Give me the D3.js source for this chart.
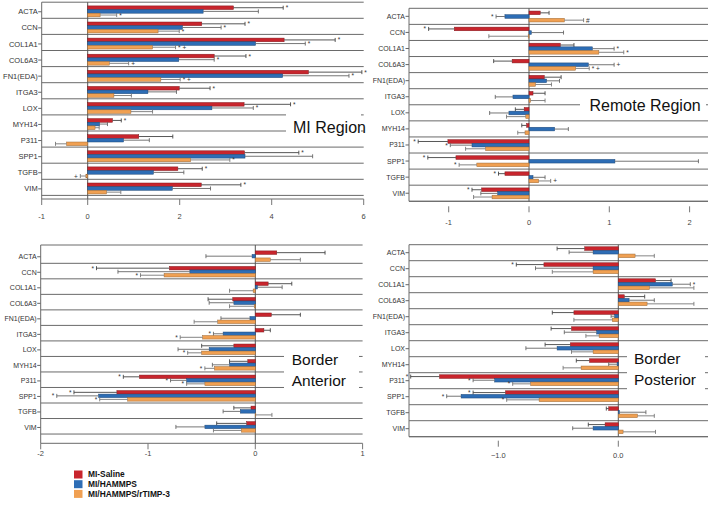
<!DOCTYPE html>
<html><head><meta charset="utf-8">
<script src="https://cdn.jsdelivr.net/npm/d3@7"></script>
<style>body{margin:0;background:#fff}svg{display:block}text{font-family:"Liberation Sans",Arial,sans-serif}</style>
</head><body><svg id="c" width="711" height="505"></svg>
<script>
const genes = ["ACTA","CCN","COL1A1","COL6A3","FN1(EDA)","ITGA3","LOX","MYH14","P311","SPP1","TGFB","VIM"];
const seriesNames = ["MI-Saline","MI/HAMMPS","MI/HAMMPS/rTIMP-3"];
const seriesColors = ["#c8252d","#2d6db5","#f0a052"];

// MI Region
const miSaline   = [3.17,2.48,4.27,2.75,4.80,1.99,3.40,0.54,1.11,3.41,1.96,2.47];
const miSalineSE = [1.08,0.94,1.11,0.69,1.16,0.67,1.01,0.19,0.74,1.18,0.53,0.86];
const miHammps   = [2.51,2.06,3.65,1.98,4.24,1.31,2.70,0.26,0.78,3.42,1.43,1.84];
const miHammpsSE = [1.20,0.84,1.08,0.77,1.44,0.62,0.90,0.17,0.56,1.47,0.66,0.83];
const miTimp     = [0.27,1.53,1.41,0.47,1.59,0.57,0.94,0.16,-0.46,2.24,-0.04,0.41];
const miTimpSE   = [0.36,0.46,0.50,0.42,0.42,0.38,0.47,0.09,0.24,0.85,0.12,0.31];
const miSalineSig = ["*","*","*","*","*","*","*","*","","*","*","*"];
const miHammpsSig = ["","*","*","*","*","","*","","","","",""];
const miTimpSig   = ["*","*","* +","+","* +","","","","","*","+",""];
const miTicks = [-1,0,2,4,6];

// Remote Region
const reSaline   = [0.14,-0.93,0.39,-0.21,0.19,0.05,-0.06,-0.03,-1.01,-0.91,-0.30,-0.59];
const reSalineSE = [0.11,0.32,0.17,0.23,0.21,0.15,0.11,0.06,0.37,0.35,0.08,0.12];
const reHammps   = [-0.30,0.03,0.79,0.74,0.22,-0.20,-0.25,0.32,-0.71,1.07,0.05,-0.39];
const reHammpsSE = [0.11,0.40,0.27,0.32,0.16,0.22,0.24,0.17,0.27,1.04,0.15,0.21];
const reTimp     = [0.44,-0.01,0.87,0.58,0.08,0.02,-0.04,-0.05,-0.54,-0.65,0.12,-0.46];
const reTimpSE   = [0.24,0.49,0.31,0.17,0.20,0.18,0.24,0.09,0.25,0.22,0.15,0.23];
const reSalineSig = ["","*","","","","","","","*","*","*","*"];
const reHammpsSig = ["*","","*","+","","","","","*","","",""];
const reTimpSig   = ["#","","*","* +","","","","","","*","+",""];
const reTicks = [-1,0,1,2];

// Border Anterior
const baSaline   = [0.20,-0.80,0.12,-0.21,0.15,0.08,-0.20,-0.07,-1.08,-1.29,-0.04,-0.08];
const baSalineSE = [0.45,0.68,0.22,0.23,0.27,0.06,0.30,0.17,0.15,0.40,0.16,0.28];
const baHammps   = [-0.03,-0.61,0.02,-0.20,-0.05,-0.30,-0.43,-0.24,-0.64,-1.46,-0.14,-0.47];
const baHammpsSE = [0.43,0.67,0.23,0.23,0.27,0.09,0.29,0.16,0.15,0.39,0.16,0.27];
const baTimp     = [0.14,-0.85,-0.02,-0.01,-0.35,-0.49,-0.50,-0.38,-0.47,-1.19,0.005,-0.13];
const baTimpSE   = [0.28,0.22,0.22,0.23,0.22,0.21,0.13,0.09,0.17,0.26,0.15,0.26];
const baSalineSig = ["","*","","","","","","","*","*","",""];
const baHammpsSig = ["","","","","","*","","","*","*","",""];
const baTimpSig   = ["","*","","","","*","*","*","*","*","",""];
const baTicks = [-2,-1,0,1];

// Border Posterior
const bpSaline   = [-0.28,-0.62,0.31,0.05,-0.37,-0.39,-0.40,-0.24,-1.49,-0.94,-0.08,-0.11];
const bpSalineSE = [0.23,0.23,0.13,0.17,0.18,0.17,0.21,0.11,0.24,0.27,0.02,0.14];
const bpHammps   = [-0.21,-0.21,0.45,0.09,-0.03,-0.18,-0.51,-0.01,-1.03,-1.31,0.01,-0.21];
const bpHammpsSE = [0.20,0.48,0.15,0.21,0.03,0.27,0.26,0.07,0.18,0.12,0.22,0.17];
const bpTimp     = [0.14,-0.21,0.26,0.24,-0.05,-0.16,-0.21,-0.31,-0.73,-0.66,0.16,0.04];
const bpTimpSE   = [0.16,0.34,0.37,0.39,0.32,0.11,0.18,0.15,0.15,0.27,0.14,0.27];
const bpSalineSig = ["","*","","","","","","","*","*","",""];
const bpHammpsSig = ["","","*","","","","","","*","*","",""];
const bpTimpSig   = ["","","","","","","","","*","*","",""];
const bpTicks = [-1,0];

const svg = d3.select("#c");

function drawPanel(cfg, vals, ses, sigs, ticks, fmt, title) {
  const g = svg.append("g");
  const x = d3.scaleLinear().domain(cfg.dom).range([cfg.x0, cfg.x1]);
  const y = d3.scaleBand().domain(genes).range([cfg.bandTop, cfg.bandTop + genes.length * cfg.bandH]).padding(0);
  const h = y.bandwidth();
  const ys = d3.scaleBand().domain([0,1,2]).range([cfg.padTop * h, (cfg.padTop + 0.68) * h]).padding(0);
  const sepR = cfg.sepRight;

  g.selectAll("line.sep").data(d3.range(1, genes.length + 1)).join("line")
    .attr("x1", cfg.x0).attr("x2", sepR)
    .attr("y1", k => cfg.bandTop + k * h).attr("y2", k => cfg.bandTop + k * h)
    .attr("stroke", "#6a6a6a").attr("stroke-width", 1);
  g.append("line").attr("x1", cfg.x0).attr("x2", sepR).attr("y1", cfg.frameTop).attr("y2", cfg.frameTop)
    .attr("stroke", "#6a6a6a");
  g.append("rect").attr("x", cfg.box[0]).attr("y", cfg.box[1]).attr("width", cfg.box[2]).attr("height", cfg.box[3]).attr("fill", "#fff");

  g.append("line").attr("x1", cfg.x0).attr("x2", sepR).attr("y1", cfg.axisY).attr("y2", cfg.axisY).attr("stroke", "#6a6a6a");
  g.selectAll("line.xt").data(ticks).join("line")
    .attr("x1", d => x(d)).attr("x2", d => x(d)).attr("y1", cfg.axisY + cfg.tickGap).attr("y2", cfg.axisY + cfg.tickGap + 6)
    .attr("stroke", "#777");
  g.selectAll("text.xt").data(ticks).join("text")
    .attr("x", d => x(d)).attr("y", cfg.tickLabelY).attr("dy", "0.35em")
    .attr("text-anchor", "middle").attr("font-size", 7.5).attr("fill", "#444").text(fmt);

  g.append("line").attr("x1", cfg.x0).attr("x2", cfg.x0).attr("y1", cfg.frameTop).attr("y2", cfg.axisY).attr("stroke", "#6a6a6a");
  g.append("line").attr("x1", x(0)).attr("x2", x(0)).attr("y1", cfg.frameTop).attr("y2", cfg.axisY).attr("stroke", "#555");

  g.selectAll("line.yt").data(genes).join("line")
    .attr("x1", cfg.x0 - 3.5).attr("x2", cfg.x0)
    .attr("y1", d => y(d) + h / 2 + cfg.labelDy).attr("y2", d => y(d) + h / 2 + cfg.labelDy)
    .attr("stroke", "#666");
  g.selectAll("text.yl").data(genes).join("text")
    .attr("x", cfg.x0 - 4).attr("y", d => y(d) + h / 2 + cfg.labelDy).attr("dy", "0.35em")
    .attr("text-anchor", "end").attr("font-size", cfg.labelFont).attr("fill", "#333").text(d => d);

  const rows = [];
  genes.forEach((gn, i) => {
    for (let s = 0; s < 3; s++) rows.push({gene: gn, s, v: vals[s][i], se: ses[s][i], sig: sigs[s][i]});
  });
  const errCols = ["#444", "#666", "#777"];
  const bg = g.selectAll("g.bar").data(rows).join("g")
    .attr("transform", d => `translate(0,${y(d.gene) + ys(d.s)})`);
  const bh = ys.bandwidth();
  bg.append("rect")
    .attr("x", d => Math.min(x(0), x(d.v))).attr("y", 0)
    .attr("width", d => Math.abs(x(d.v) - x(0))).attr("height", bh)
    .attr("fill", d => seriesColors[d.s])
    .attr("stroke", d => d3.color(seriesColors[d.s]).darker(1.2)).attr("stroke-width", 0.5);
  const endV = d => d.v >= 0 ? d.v + d.se : d.v - d.se;
  bg.append("line")
    .attr("x1", d => x(d.v)).attr("x2", d => x(endV(d)))
    .attr("y1", bh / 2).attr("y2", bh / 2)
    .attr("stroke", d => errCols[d.s]).attr("stroke-width", 0.9);
  bg.append("line")
    .attr("x1", d => x(endV(d))).attr("x2", d => x(endV(d)))
    .attr("y1", bh / 2 - 2).attr("y2", bh / 2 + 2)
    .attr("stroke", d => errCols[d.s]).attr("stroke-width", 0.9);
  bg.filter(d => d.sig).append("text")
    .attr("x", d => x(endV(d)) + (d.v >= 0 ? 2.5 : -2.5))
    .attr("y", bh / 2 + 2.5)
    .attr("text-anchor", d => d.v >= 0 ? "start" : "end")
    .attr("font-size", 6.5).attr("fill", "#333").text(d => d.sig);

  title.lines.forEach((t, i) => {
    g.append("text").attr("x", title.x).attr("y", title.y[i]).attr("font-size", title.size)
      .attr("fill", "#111").text(t);
  });
}

drawPanel({x0: 41.7, x1: 363.7, dom: [-1, 6], frameTop: 2.2, bandTop: 2.2, bandH: 16.1, axisY: 199,
  tickGap: 0, tickLabelY: 216, sepRight: 363.7, padTop: 0.23, labelFont: 7.5, labelDy: 1.5,
  box: [286, 110, 75, 28]},
  [miSaline, miHammps, miTimp], [miSalineSE, miHammpsSE, miTimpSE], [miSalineSig, miHammpsSig, miTimpSig],
  miTicks, d => d, {lines: ["MI Region"], x: 293, y: [132.5], size: 16});

drawPanel({x0: 409, x1: 710, dom: [(409 - 529) / 80.3, (710 - 529) / 80.3], frameTop: 8.3, bandTop: 8.3, bandH: 16.08, axisY: 201.3,
  tickGap: 5, tickLabelY: 222, sepRight: 708, padTop: 0.17, labelFont: 7, labelDy: 0,
  box: [580, 95, 126, 20]},
  [reSaline, reHammps, reTimp], [reSalineSE, reHammpsSE, reTimpSE], [reSalineSig, reHammpsSig, reTimpSig],
  reTicks, d => d, {lines: ["Remote Region"], x: 589.5, y: [110.7], size: 16});

drawPanel({x0: 40.7, x1: 362.6, dom: [-2, 1], frameTop: 245, bandTop: 247.8, bandH: 15.52, axisY: 443.3,
  tickGap: 0, tickLabelY: 453.5, sepRight: 362.6, padTop: 0.2, labelFont: 7, labelDy: 1.2,
  box: [284, 349, 75, 46]},
  [baSaline, baHammps, baTimp], [baSalineSE, baHammpsSE, baTimpSE], [baSalineSig, baHammpsSig, baTimpSig],
  baTicks, d => d, {lines: ["Border", "Anterior"], x: 291.7, y: [365, 386], size: 15.5});

drawPanel({x0: 409, x1: 710, dom: [(409 - 618.3) / 120, (710 - 618.3) / 120], frameTop: 244.7, bandTop: 244.7, bandH: 16, axisY: 436.7,
  tickGap: 4, tickLabelY: 455.7, sepRight: 708, padTop: 0.13, labelFont: 7, labelDy: 0,
  box: [627, 349, 78, 46]},
  [bpSaline, bpHammps, bpTimp], [bpSalineSE, bpHammpsSE, bpTimpSE], [bpSalineSig, bpHammpsSig, bpTimpSig],
  bpTicks, d3.format(".1f"), {lines: ["Border", "Posterior"], x: 634, y: [364.3, 385], size: 15.5});

const lg = svg.append("g").attr("transform", "translate(74,470.5)");
const li = lg.selectAll("g").data(seriesNames).join("g").attr("transform", (d, i) => `translate(0,${i * 9.7})`);
li.append("rect").attr("width", 8.5).attr("height", 8).attr("fill", (d, i) => seriesColors[i]);
li.append("text").attr("x", 14).attr("y", 4).attr("dy", "0.35em").attr("font-size", 8.4).attr("font-weight", "bold")
  .attr("fill", "#111").text(d => d);
</script></body></html>
